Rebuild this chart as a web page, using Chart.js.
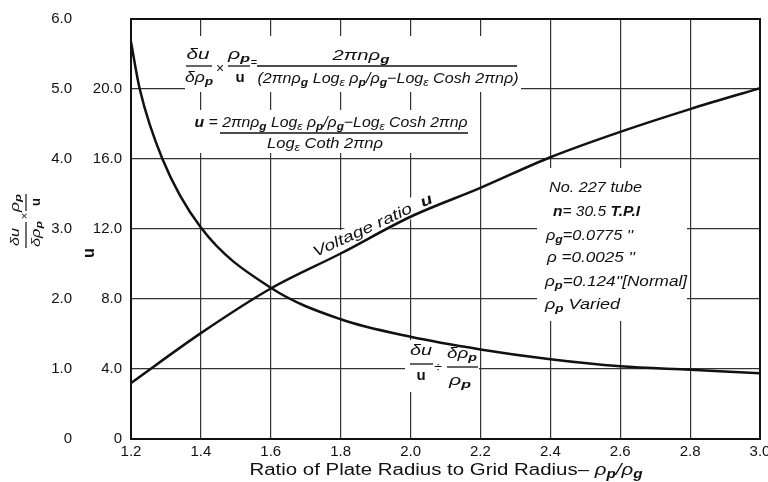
<!DOCTYPE html>
<html>
<head>
<meta charset="utf-8">
<script src="https://cdn.jsdelivr.net/npm/chart.js@4.4.0/dist/chart.umd.min.js"></script>
<style>
  html, body { margin: 0; padding: 0; background: #fff; }
  canvas { display: block; }
</style>
</head>
<body>
<canvas id="grafica" width="768" height="482"></canvas>
<script>
// valores
const xTicks = [1.2, 1.4, 1.6, 1.8, 2.0, 2.2, 2.4, 2.6, 2.8, 3.0];
const xEtiquetas = ["1.2", "1.4", "1.6", "1.8", "2.0", "2.2", "2.4", "2.6", "2.8", "3.0"];
const yTicks = [0, 1, 2, 3, 4, 5, 6];
const yEtiquetas = ["0", "1.0", "2.0", "3.0", "4.0", "5.0", "6.0"];
const uTicks = [0, 4, 8, 12, 16, 20, 24];
const uEtiquetas = ["0", "4.0", "8.0", "12.0", "16.0", "20.0", ""];

const xVoltaje = [1.2, 1.4, 1.6, 1.8, 2.0, 2.2, 2.4, 2.6, 2.8, 3.0];
const voltaje = [3.2, 6.05, 8.6, 10.6, 12.7, 14.35, 16.1, 17.55, 18.85, 20.05];

const xSens = [1.2, 1.225, 1.29, 1.4, 1.6, 1.8, 2.0, 2.2, 2.4, 2.6, 2.8, 3.0];
const sensibilidad = [5.67, 5.0, 4.0, 3.02, 2.16, 1.71, 1.46, 1.28, 1.14, 1.04, 0.99, 0.94];

const familia = '"Liberation Sans", "DejaVu Sans", sans-serif';
const tinta = "#111";

// partes: "_" subindice, "*" negrita, "~" cursiva
function texto(c, partes, cx, cy, tam, ancho, italica) {
  let piezas = [];
  let total = 0;
  for (let p of partes) {
    let sub = false, neg = false, ita = italica;
    while (p.length > 1 && "_*~".includes(p[0])) {
      if (p[0] === "_") sub = true;
      if (p[0] === "*") neg = true;
      if (p[0] === "~") ita = true;
      p = p.slice(1);
    }
    let t = sub ? tam * 0.75 : tam;
    let f = (ita ? "italic " : "") + (neg ? "bold " : "") + t + "px " + familia;
    c.font = f;
    let w = c.measureText(p).width;
    piezas.push({ s: p, f: f, w: w, dy: sub ? tam * 0.25 : 0 });
    total += w;
  }
  let k = ancho ? ancho / total : 1;
  c.save();
  c.translate(cx, cy);
  c.scale(k, 1);
  c.textAlign = "left";
  c.textBaseline = "middle";
  let x = -total / 2;
  for (let m of piezas) {
    c.font = m.f;
    c.fillText(m.s, x, m.dy);
    x += m.w;
  }
  c.restore();
}

function raya(c, x0, x1, y) {
  c.beginPath();
  c.moveTo(x0, y);
  c.lineTo(x1, y);
  c.stroke();
}

function tapar(c, x0, y0, x1, y1) {
  c.fillStyle = "#fff";
  c.fillRect(x0, y0, x1 - x0, y1 - y0);
  c.fillStyle = tinta;
}

const anotaciones = {
  id: "anotaciones",
  beforeDatasetsDraw(chart) {
    const c = chart.ctx;
    c.save();
    c.strokeStyle = tinta;
    c.lineWidth = 1.3;

    // formula de arriba
    tapar(c, 185, 36, 521, 92);
    texto(c, ["δu"], 198, 55, 15, 23, true);
    raya(c, 186, 212, 66);
    texto(c, ["δρ", "_*p"], 199, 78, 15, 28, true);
    texto(c, ["×"], 220, 69, 14, 0, false);
    texto(c, ["ρ", "_*p"], 239, 55, 15, 22, true);
    raya(c, 228, 250, 66);
    texto(c, ["*u"], 240, 78, 15, 0, false);
    texto(c, ["="], 254, 63, 11, 0, false);
    texto(c, ["2πnρ", "_*g"], 361, 56, 15, 57, true);
    raya(c, 257, 517, 66);
    texto(c, ["(2πnρ", "_*g", " Log", "_ε", " ρ", "_*p", "/ρ", "_*g", "−Log", "_ε", " Cosh 2πnρ)"], 388, 79, 15, 261, true);

    // formula de u
    tapar(c, 190, 110, 475, 153);
    texto(c, ["*u", " = 2πnρ", "_*g", " Log", "_ε", " ρ", "_*p", "/ρ", "_*g", "−Log", "_ε", " Cosh 2πnρ"], 331, 123, 15, 273, true);
    raya(c, 220, 468, 133);
    texto(c, ["Log", "_ε", " Coth 2πnρ"], 325, 144, 15, 116, true);

    // datos del tubo
    tapar(c, 537, 168, 687, 321);
    texto(c, ["No. 227 tube"], 549 + 46.5, 188, 15, 93, true);
    texto(c, ["*n", "= 30.5 ", "*T.P.I"], 553 + 43.5, 212, 15, 87, true);
    texto(c, ["ρ", "_*g", "=0.0775 ''"], 546 + 43.5, 236, 15, 87, true);
    texto(c, ["ρ =0.0025 ''"], 547 + 44, 258, 15, 88, true);
    texto(c, ["ρ", "_*p", "=0.124''[Normal]"], 545 + 71, 282, 15, 142, true);
    texto(c, ["ρ", "_*p", " Varied"], 545 + 37.5, 305, 15, 75, true);

    // etiqueta sobre la curva de u
    c.save();
    c.translate(373, 226);
    c.rotate(-25 * Math.PI / 180);
    tapar(c, -68, -10, 68, 10);
    texto(c, ["Voltage ratio  ", "*u"], 0, 0, 15, 130, true);
    c.restore();

    // etiqueta de la curva que baja
    tapar(c, 405, 340, 479, 392);
    texto(c, ["δu"], 421, 351, 15, 22, true);
    raya(c, 410, 433, 364);
    texto(c, ["*u"], 421, 376, 15, 0, false);
    texto(c, ["÷"], 438, 368, 14, 0, false);
    texto(c, ["δρ", "_*p"], 462, 354, 15, 30, true);
    raya(c, 447, 478, 367);
    texto(c, ["ρ", "_*p"], 460, 381, 15, 22, true);

    c.restore();
  },
  afterDraw(chart) {
    const c = chart.ctx;
    const a = chart.chartArea;
    c.save();
    c.strokeStyle = tinta;
    c.fillStyle = tinta;
    c.lineWidth = 2;
    c.strokeRect(a.left, a.top, a.right - a.left, a.bottom - a.top);

    // titulo del eje de fuera
    c.lineWidth = 1.2;
    c.save();
    c.translate(25, 218);
    c.rotate(-Math.PI / 2);
    texto(c, ["δu"], -19, -10, 13, 18, true);
    raya(c, -30, -4, 1);
    texto(c, ["δρ", "_*p"], -16, 11, 13, 26, true);
    texto(c, ["×"], 2, 0, 11, 0, false);
    texto(c, ["ρ", "_*p"], 15, -10, 13, 18, true);
    raya(c, 7, 24, 1);
    texto(c, ["*u"], 16, 11, 13, 0, false);
    c.restore();

    // titulo del eje de u
    c.save();
    c.translate(90, 253);
    c.rotate(-Math.PI / 2);
    texto(c, ["*u"], 0, 0, 16, 0, false);
    c.restore();

    // titulo del eje x
    texto(c, ["Ratio of Plate Radius to Grid Radius– ", "~ρ", "~_*p", "~/ρ", "~_*g"], 446, 471, 16, 393, false);
    c.restore();
  }
};

const fuenteTicks = { family: familia, size: 15 };

let ctx = document.getElementById("grafica").getContext("2d");
let grafica = new Chart(ctx, {
  type: "line",
  data: {
    datasets: [
      {
        label: "Voltage ratio u",
        data: xVoltaje.map((x, i) => ({ x: x, y: voltaje[i] })),
        yAxisID: "u",
      },
      {
        label: "du/u ÷ dρp/ρp",
        data: xSens.map((x, i) => ({ x: x, y: sensibilidad[i] })),
        yAxisID: "y",
      },
    ],
  },
  options: {
    responsive: false,
    animation: false,
    devicePixelRatio: 1,
    layout: { padding: { top: 19, right: 8, bottom: 0, left: 0 } },
    plugins: { legend: { display: false }, tooltip: { enabled: false } },
    elements: {
      point: { radius: 0 },
      line: { borderWidth: 2.5, borderColor: tinta, cubicInterpolationMode: "monotone" },
    },
    scales: {
      x: {
        type: "linear",
        min: 1.2,
        max: 3.0,
        afterBuildTicks: (eje) => { eje.ticks = xTicks.map((v) => ({ value: v })); },
        afterFit: (eje) => { eje.height = 43; eje.paddingLeft = 0; eje.paddingRight = 0; },
        ticks: { callback: (v, i) => xEtiquetas[i], font: fuenteTicks, color: tinta, padding: 4, maxRotation: 0, autoSkip: false },
        grid: { color: "#333", lineWidth: 1.2, drawTicks: false },
        border: { display: false },
      },
      y: {
        position: "left",
        weight: 1,
        min: 0,
        max: 6,
        afterBuildTicks: (eje) => { eje.ticks = yTicks.map((v) => ({ value: v })); },
        afterFit: (eje) => { eje.width = 82; eje.paddingTop = 0; eje.paddingBottom = 0; },
        ticks: { callback: (v, i) => yEtiquetas[i], font: fuenteTicks, color: tinta, padding: 10, autoSkip: false },
        grid: { color: "#333", lineWidth: 1.2, drawTicks: false },
        border: { display: false },
      },
      u: {
        position: "left",
        weight: 0,
        min: 0,
        max: 24,
        afterBuildTicks: (eje) => { eje.ticks = uTicks.map((v) => ({ value: v })); },
        afterFit: (eje) => { eje.width = 49; eje.paddingTop = 0; eje.paddingBottom = 0; },
        ticks: { callback: (v, i) => uEtiquetas[i], font: fuenteTicks, color: tinta, padding: 9, autoSkip: false },
        grid: { display: false, drawTicks: false },
        border: { display: false },
      },
    },
  },
  plugins: [anotaciones],
});
</script>
</body>
</html>
